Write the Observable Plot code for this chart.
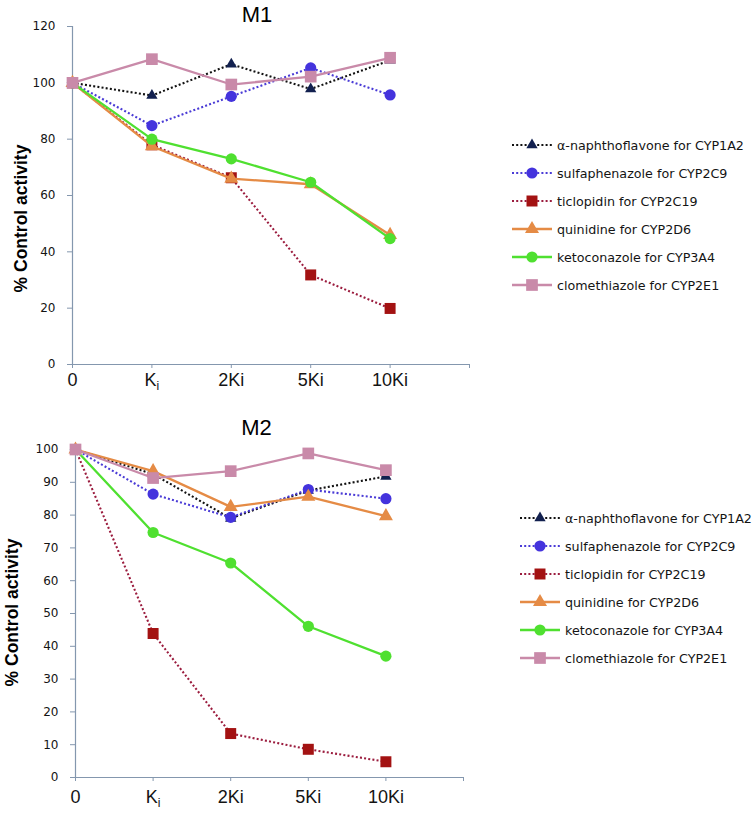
<!DOCTYPE html>
<html>
<head>
<meta charset="utf-8">
<script src="https://cdn.jsdelivr.net/npm/d3@7"></script>
<script src="https://cdn.jsdelivr.net/npm/@observablehq/plot@0.6"></script>
<style>
  html, body { margin: 0; padding: 0; background: #fff; }
  #wrap { position: relative; width: 755px; height: 814px; overflow: hidden; }
  #wrap > svg, #wrap > figure { position: absolute; left: 0; margin: 0; }
</style>
</head>
<body>
<div id="wrap"></div>
<script>
// ---------- data ----------
const doses = ["0", "Ki", "2Ki", "5Ki", "10Ki"];
const drugs = [
  "α-naphthoflavone for CYP1A2",
  "sulfaphenazole for CYP2C9",
  "ticlopidin for CYP2C19",
  "quinidine for CYP2D6",
  "ketoconazole for CYP3A4",
  "clomethiazole for CYP2E1"
];
const panelTitles = ["M1", "M2"];
const yLabel = "% Control activity";

// M1 values (% control activity at each dose)
const m1Naphthoflavone = [100, 95.5, 106.6, 97.8, 108];
const m1Sulfaphenazole = [100, 84.8, 95.2, 105.3, 95.7];
const m1Ticlopidin     = [100, 78, 66.3, 31.8, 19.9];
const m1Quinidine      = [100, 77.5, 66, 64, 46];
const m1Ketoconazole   = [100, 80, 73, 64.7, 44.7];
const m1Clomethiazole  = [100, 108.4, 99.4, 102.2, 108.9];

// M2 values
const m2Naphthoflavone = [100, 92.5, 79, 87.5, 91.8];
const m2Sulfaphenazole = [100, 86.4, 79.3, 87.8, 85];
const m2Ticlopidin     = [100, 43.9, 13.4, 8.6, 4.8];
const m2Quinidine      = [100, 93.4, 82.5, 85.6, 79.7];
const m2Ketoconazole   = [100, 74.7, 65.4, 46.1, 37];
const m2Clomethiazole  = [100, 91.3, 93.4, 98.8, 93.7];

const m1Series = [m1Naphthoflavone, m1Sulfaphenazole, m1Ticlopidin, m1Quinidine, m1Ketoconazole, m1Clomethiazole];
const m2Series = [m2Naphthoflavone, m2Sulfaphenazole, m2Ticlopidin, m2Quinidine, m2Ketoconazole, m2Clomethiazole];

const m1YTicks = [0, 20, 40, 60, 80, 100, 120];
const m2YTicks = [0, 10, 20, 30, 40, 50, 60, 70, 80, 90, 100];

// ---------- styles ----------
const styles = [
  {line: "#111111", marker: "#12204f", dotted: true,  symbol: "triangle", r: 4.2},
  {line: "#4a3bd6", marker: "#4433dd", dotted: true,  symbol: "circle",   r: 5.6},
  {line: "#9b1c3e", marker: "#a31212", dotted: true,  symbol: "square",   r: 6.2},
  {line: "#e58b45", marker: "#e58b45", dotted: false, symbol: "triangle", r: 5.2},
  {line: "#4fe030", marker: "#4fe030", dotted: false, symbol: "circle",   r: 5.6},
  {line: "#c98aa9", marker: "#c98aa9", dotted: false, symbol: "square",   r: 6.6}
];
const axisColor = "#8497ae";
const textColor = "#141414";
const dotDash = "2,2.2";

function rowsFor(series) {
  const rows = [];
  series.forEach((vals, s) => vals.forEach((v, i) => rows.push({s, i, v})));
  return rows;
}

function panel(series, yTicks, yMax, cfg) {
  const rows = rowsFor(series);
  const marks = [
    Plot.ruleY([0], {stroke: axisColor, strokeWidth: 1.2}),
    Plot.ruleX([0], {stroke: axisColor, strokeWidth: 1.2}),
    Plot.axisX({
      ticks: [0, 1, 2, 3, 4, 5], label: null,
      tickFormat: i => doses[i] ?? "",
      tickSize: 4, tickPadding: cfg.xPad,
      stroke: axisColor, fill: textColor,
      fontSize: 18, fontFamily: "Liberation Sans, Arial, sans-serif"
    }),
    Plot.axisY({
      ticks: yTicks, label: null, tickSize: 5, tickPadding: cfg.yPad,
      stroke: axisColor, fill: textColor,
      fontSize: 12, fontFamily: "DejaVu Sans, sans-serif"
    }),
    Plot.text([cfg.title], {
      frameAnchor: "top", dx: cfg.titleDx, dy: cfg.titleDy, lineAnchor: "middle",
      fontSize: 22, fontFamily: "Liberation Sans, Arial, sans-serif", fill: "#000"
    }),
    Plot.text([yLabel], {
      frameAnchor: "left", textAnchor: "middle", rotate: -90,
      dx: cfg.ylabDx, dy: cfg.ylabDy, lineAnchor: "middle",
      fontSize: 17.5, fontWeight: "bold", fontFamily: "Liberation Sans, Arial, sans-serif", fill: "#000"
    })
  ];
  styles.forEach((st, s) => {
    const data = rows.filter(d => d.s === s);
    marks.push(Plot.line(data, {
      x: "i", y: "v", stroke: st.line, strokeWidth: st.dotted ? 2.1 : 2.3,
      strokeDasharray: st.dotted ? dotDash : null, strokeLinecap: "butt"
    }));
    marks.push(Plot.dot(data, {
      x: "i", y: "v", symbol: () => st.symbol, r: st.r, fill: st.marker, stroke: "none"
    }));
  });
  const svg = Plot.plot({
    width: 755, height: cfg.height,
    marginLeft: cfg.ml, marginRight: cfg.mr, marginTop: cfg.mt, marginBottom: cfg.mb,
    x: {type: "linear", domain: [0, 5], axis: null},
    y: {domain: [0, yMax], axis: null},
    symbol: {type: "identity"},
    style: {background: "transparent", overflow: "visible"},
    marks
  });
  // subscript i in "Ki"
  d3.select(svg).selectAll("g[aria-label='x-axis tick label'] text").each(function () {
    if (this.textContent === "Ki") {
      const t = d3.select(this);
      t.text("K");
      t.append("tspan").attr("font-size", 12).attr("dy", "0.35em").text("i");
    }
  });
  return svg;
}

const wrap = document.getElementById("wrap");

const chartM1 = panel(m1Series, m1YTicks, 120, {
  height: 400, ml: 72, mr: 286, mt: 26, mb: 36,
  xPad: 5, yPad: 12, title: panelTitles[0], titleDx: -14, titleDy: -12,
  ylabDx: -51, ylabDy: 23
});
chartM1.style.top = "0px";
wrap.appendChild(chartM1);

const chartM2 = panel(m2Series, m2YTicks, 100, {
  height: 414, ml: 75, mr: 292, mt: 49, mb: 37,
  xPad: 9, yPad: 12, title: panelTitles[1], titleDx: -13, titleDy: -22,
  ylabDx: -63, ylabDy: -1
});
chartM2.style.top = "400px";
wrap.appendChild(chartM2);

// ---------- legends ----------
const legendSvg = d3.create("svg").attr("width", 755).attr("height", 814)
  .style("position", "absolute").style("left", "0px").style("top", "0px");
const symbolMap = {triangle: d3.symbolTriangle, circle: d3.symbolCircle, square: d3.symbolSquare};
function legend(x0, y0, step) {
  const g = legendSvg.append("g");
  drugs.forEach((name, s) => {
    const st = styles[s];
    const y = y0 + s * step;
    g.append("line").attr("x1", x0).attr("x2", x0 + 40).attr("y1", y).attr("y2", y)
      .attr("stroke", st.line).attr("stroke-width", st.dotted ? 2.1 : 2.3)
      .attr("stroke-dasharray", st.dotted ? dotDash : null);
    g.append("path").attr("transform", `translate(${x0 + 20},${y})`)
      .attr("d", d3.symbol(symbolMap[st.symbol], Math.PI * st.r * st.r)())
      .attr("fill", st.marker);
    g.append("text").attr("x", x0 + 45).attr("y", y).attr("dy", "0.36em")
      .attr("font-family", "DejaVu Sans, sans-serif").attr("font-size", 12.7)
      .attr("fill", textColor).text(name);
  });
}
legend(512, 145, 28);
legend(520, 518, 28);
wrap.appendChild(legendSvg.node());
</script>
</body>
</html>
